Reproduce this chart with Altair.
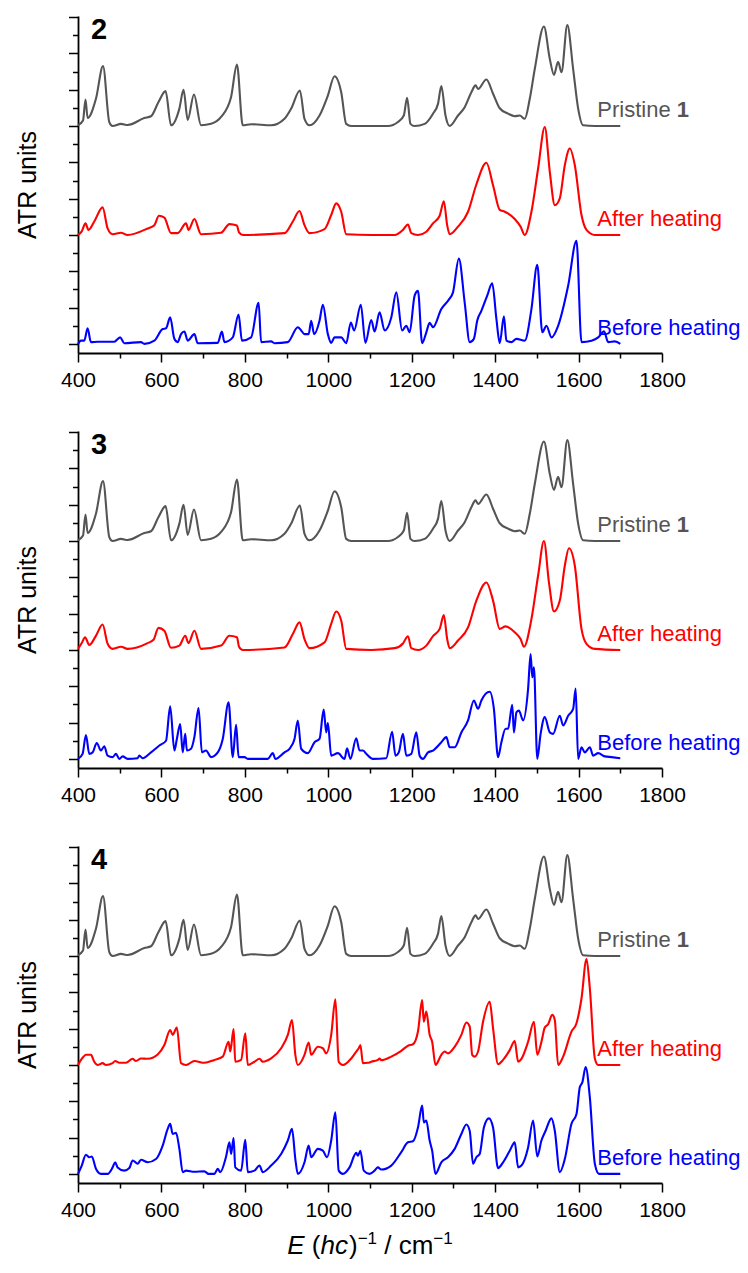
import altair as alt
import pandas as pd

FONT = "Liberation Sans, Arial, Helvetica, sans-serif"

SERIES = ["Pristine", "After heating", "Before heating"]
COLORS = ["#555555", "#ff0000", "#0000ff"]
OFFSETS = [6, 3, 0]

MAJOR_X = [400, 600, 800, 1000, 1200, 1400, 1600, 1800]
MINOR_X = [500, 700, 900, 1100, 1300, 1500, 1700]
MAJOR_Y = [0, 1, 2, 3, 4, 5, 6, 7, 8, 9]
MINOR_Y = [0.5, 1.5, 2.5, 3.5, 4.5, 5.5, 6.5, 7.5, 8.5]

PANELS = ["2", "3", "4"]

# x-axis title pieces: (text, italic, superscript, leading gap in em)
X_TITLE = [("E", True, False, 0), ("(", False, False, 0.278), ("hc", True, False, 0),
           (")", False, False, 0.04), ("\u22121", False, True, 0), ("/ cm", False, False, 0.278),
           ("\u22121", False, True, 0)]

# Pristine 1 (same trace in every panel): (wavenumber, intensity)
PRISTINE_1 = [(400, 0.02), (412, 0.15), (418, 0.73), (423, 0.22), (443, 0.75), (460, 1.65), (475, 0.11),
              (483, 0), (503, 0.06), (519, 0.03), (559, 0.22), (575, 0.27), (593, 0.66), (610, 0.96),
              (623, 0.02), (643, 0.48), (653, 1.0), (663, 0.17), (678, 0.87), (695, 0.02), (719, 0.06),
              (743, 0.25), (767, 0.80), (781, 1.69), (795, 0.02), (815, 0.05), (863, 0.02), (895, 0.20),
              (911, 0.48), (932, 0.98), (943, 0.2), (955, 0.02), (979, 0.29), (999, 0.84), (1015, 1.37),
              (1031, 0.93), (1043, 0.06), (1055, 0), (1103, 0), (1143, 0), (1167, 0.11), (1181, 0.29),
              (1189, 0.78), (1197, 0.06), (1207, 0), (1231, 0.06), (1251, 0.34), (1263, 0.61), (1271, 1.10),
              (1281, 0.29), (1291, 0), (1311, 0.29), (1327, 0.52), (1343, 0.93), (1353, 1.12), (1359, 1.02),
              (1379, 1.28), (1395, 0.89), (1411, 0.49), (1431, 0.34), (1447, 0.27), (1459, 0.29), (1471, 0.2),
              (1483, 0.75), (1495, 1.57), (1517, 2.74), (1531, 1.85), (1541, 1.41), (1551, 1.77), (1559, 1.48),
              (1573, 2.78), (1587, 1.57), (1599, 0.48), (1611, 0.02), (1639, 0), (1700, 0)]

# Panel 2
AFTER_2 = [(400, 0), (409, 0.1), (418, 0.32), (425, 0.14), (439, 0.37), (459, 0.76), (471, 0.18), (483, 0.02),
           (503, 0.06), (519, 0), (567, 0.18), (583, 0.27), (594, 0.53), (607, 0.48), (623, 0.05), (639, 0.05),
           (659, 0.32), (665, 0.14), (679, 0.44), (695, 0.02), (743, 0.06), (763, 0.30), (781, 0.26), (786, 0.07),
           (795, 0), (895, 0.05), (915, 0.37), (931, 0.66), (943, 0.27), (955, 0.05), (991, 0.16), (1007, 0.55),
           (1019, 0.87), (1031, 0.64), (1043, 0.02), (1103, 0), (1159, 0), (1179, 0.14), (1191, 0.29),
           (1199, 0.05), (1215, 0), (1235, 0.09), (1251, 0.32), (1267, 0.53), (1277, 0.93), (1285, 0.27),
           (1291, 0.02), (1311, 0.23), (1335, 0.64), (1355, 1.39), (1379, 1.99), (1395, 1.37), (1411, 0.69),
           (1423, 0.64), (1447, 0.44), (1461, 0.23), (1471, 0), (1487, 0.64), (1503, 1.83), (1519, 2.97),
           (1531, 1.74), (1543, 0.82), (1555, 1.01), (1567, 1.92), (1579, 2.38), (1591, 1.92), (1607, 0.55),
           (1619, 0.14), (1639, 0), (1700, 0)]

BEFORE_2 = [(400, 0), (407, 0.09), (415, 0.09), (423, 0.43), (431, 0.05), (447, 0.06), (487, 0.06), (501, 0.18),
            (511, 0.02), (551, 0.05), (559, 0), (583, 0.09), (603, 0.41), (611, 0.43), (621, 0.73), (631, 0.14),
            (639, 0.05), (647, 0.27), (655, 0.34), (663, 0.09), (679, 0.27), (687, 0.02), (735, 0.03), (745, 0.34),
            (751, 0.05), (771, 0.18), (785, 0.81), (793, 0.09), (815, 0.18), (833, 1.13), (839, 0.05), (863, 0.07),
            (871, 0.02), (903, 0.05), (927, 0.46), (935, 0.37), (943, 0.27), (953, 0.27), (959, 0.64), (966, 0.27),
            (979, 0.64), (987, 1.08), (999, 0.27), (1007, 0.03), (1015, 0.18), (1031, 0.18), (1043, 0.02),
            (1054, 0.59), (1062, 0.37), (1078, 1.08), (1089, 0.03), (1103, 0.66), (1111, 0.34), (1123, 0.87),
            (1135, 0.37), (1151, 0.73), (1163, 1.42), (1177, 0.37), (1187, 0.50), (1195, 0.32), (1207, 1.33),
            (1215, 1.46), (1225, 0.02), (1235, 0.32), (1243, 0.58), (1251, 0.46), (1271, 0.96), (1289, 1.22),
            (1299, 1.42), (1313, 2.35), (1327, 1.14), (1339, 0.05), (1349, 0.14), (1357, 0.64), (1367, 0.91),
            (1381, 1.33), (1393, 1.67), (1403, 0.69), (1411, 0.02), (1421, 0.76), (1427, 0.09), (1439, 0.05),
            (1451, 0.14), (1471, 0.09), (1487, 0.96), (1501, 2.18), (1513, 0.32), (1523, 0.5), (1535, 0.18),
            (1551, 0.5), (1575, 1.6), (1595, 2.84), (1607, 0.05), (1631, 0.09), (1647, 0.18), (1661, 0.35),
            (1671, 0.05), (1687, 0.07), (1700, 0)]

# Panel 3
AFTER_3 = [(400, 0.03), (409, 0.19), (417, 0.35), (427, 0.14), (443, 0.39), (459, 0.70), (471, 0.17), (483, 0.03),
           (503, 0.09), (519, 0.03), (567, 0.19), (581, 0.28), (593, 0.61), (607, 0.53), (623, 0.06), (643, 0.12),
           (657, 0.39), (665, 0.19), (679, 0.53), (695, 0.03), (743, 0.12), (763, 0.39), (781, 0.35), (786, 0.09),
           (795, 0), (895, 0.07), (915, 0.44), (931, 0.76), (943, 0.30), (955, 0.05), (991, 0.21), (1007, 0.72),
           (1019, 1.06), (1031, 0.81), (1043, 0.03), (1103, 0), (1159, 0.05), (1179, 0.18), (1191, 0.38),
           (1199, 0.05), (1215, 0), (1235, 0.12), (1251, 0.38), (1267, 0.58), (1277, 0.96), (1285, 0.30),
           (1291, 0.05), (1311, 0.26), (1335, 0.62), (1355, 1.36), (1379, 1.86), (1395, 1.36), (1411, 0.58),
           (1425, 0.65), (1447, 0.49), (1461, 0.30), (1469, 0.09), (1487, 0.85), (1503, 2.05), (1517, 3.0),
           (1529, 1.86), (1541, 1.06), (1555, 1.36), (1567, 2.32), (1577, 2.8), (1591, 2.32), (1607, 0.58),
           (1619, 0.17), (1639, 0.03), (1700, 0)]

BEFORE_3 = [(400, 0), (411, 0.14), (419, 0.66), (427, 0.14), (435, 0.18), (445, 0.44), (455, 0.23), (463, 0.35),
            (471, 0.09), (483, 0.05), (491, 0.14), (499, 0), (507, 0.07), (519, 0), (543, 0.02), (547, 0.09),
            (555, 0.02), (575, 0.18), (595, 0.37), (611, 0.5), (621, 1.45), (631, 0.23), (637, 0.55), (645, 0.96),
            (651, 0.18), (657, 0.69), (661, 0.23), (671, 0.28), (679, 0.6), (689, 1.40), (697, 0.18), (707, 0.23),
            (719, 0.05), (735, 0.18), (747, 0.55), (761, 1.56), (771, 0.05), (779, 0.94), (785, 0.05), (799, 0.05),
            (807, 0), (855, 0), (867, 0.16), (873, 0), (895, 0.18), (907, 0.28), (919, 0.55), (927, 1.06),
            (935, 0.28), (951, 0.16), (967, 0.46), (979, 0.55), (989, 1.36), (995, 0.73), (999, 0.99), (1007, 0.09),
            (1023, 0.16), (1039, 0), (1045, 0.29), (1053, 0), (1067, 0.57), (1075, 0.23), (1083, 0.23),
            (1091, 0.14), (1107, 0), (1139, 0.02), (1153, 0.75), (1161, 0.09), (1169, 0.18), (1179, 0.69),
            (1187, 0.09), (1199, 0.14), (1211, 0.73), (1219, 0.09), (1227, 0), (1239, 0.18), (1251, 0.23),
            (1271, 0.46), (1283, 0.6), (1291, 0.32), (1303, 0.32), (1319, 0.73), (1335, 1.06), (1349, 1.61),
            (1359, 1.38), (1367, 1.61), (1387, 1.85), (1397, 1.38), (1407, 0.05), (1415, 0.46), (1425, 0.83),
            (1431, 0.83), (1441, 1.49), (1445, 0.73), (1451, 1.28), (1457, 1.33), (1467, 1.06), (1479, 1.93),
            (1485, 2.89), (1489, 2.25), (1493, 2.52), (1501, 0), (1509, 0.69), (1519, 1.15), (1531, 0.73),
            (1539, 0.69), (1555, 1.19), (1563, 0.92), (1575, 1.19), (1587, 1.38), (1593, 1.94), (1599, 0),
            (1607, 0.32), (1615, 0.18), (1627, 0.32), (1635, 0.09), (1647, 0.16), (1663, 0.07), (1679, 0.05),
            (1700, 0.02)]

# Panel 4
AFTER_4 = [(400, 0), (411, 0.2), (419, 0.28), (431, 0.28), (439, 0.09), (447, 0), (459, 0.05), (467, 0), (483, 0.05),
           (489, 0.11), (499, 0.06), (515, 0.06), (531, 0.17), (539, 0.11), (551, 0.18), (567, 0.17), (591, 0.29),
           (607, 0.55), (621, 0.96), (627, 0.83), (637, 1.03), (647, 0.05), (659, 0), (679, 0.11), (703, 0.06),
           (727, 0.14), (747, 0.23), (761, 0.64), (765, 0.37), (773, 0.99), (777, 0.09), (791, 0.14), (801, 0.87),
           (807, 0), (823, 0.09), (835, 0.17), (843, 0.09), (863, 0.18), (887, 0.46), (903, 0.83), (913, 1.24),
           (921, 0.28), (927, 0), (943, 0.28), (953, 0.62), (959, 0.28), (975, 0.5), (987, 0.46), (995, 0.32),
           (1007, 0.83), (1017, 1.81), (1025, 0.09), (1035, 0), (1055, 0.18), (1067, 0.37), (1073, 0.46),
           (1077, 0.55), (1083, 0.05), (1095, 0.06), (1103, 0.09), (1119, 0.14), (1123, 0.18), (1127, 0.13),
           (1151, 0.23), (1175, 0.39), (1191, 0.53), (1203, 0.57), (1215, 0.92), (1225, 1.79), (1229, 1.19),
           (1235, 1.47), (1243, 0.83), (1249, 0.64), (1257, 0), (1271, 0.28), (1279, 0.37), (1287, 0.32),
           (1303, 0.5), (1319, 0.83), (1331, 1.17), (1339, 1.06), (1345, 0.28), (1351, 0.23), (1359, 0.37),
           (1371, 1.19), (1387, 1.74), (1395, 1.01), (1407, 0.02), (1419, 0.14), (1435, 0.41), (1447, 0.66),
           (1455, 0.09), (1463, 0.17), (1479, 0.64), (1493, 1.19), (1501, 0.28), (1511, 0.64), (1519, 1.03),
           (1527, 1.12), (1537, 1.38), (1543, 1.24), (1551, 0), (1563, 0.23), (1583, 0.92), (1595, 1.15),
           (1607, 1.83), (1619, 2.92), (1627, 2.11), (1639, 0.18), (1647, 0), (1700, 0)]

BEFORE_4 = [(400, 0), (409, 0.23), (419, 0.53), (427, 0.46), (433, 0.48), (443, 0.14), (455, 0), (471, 0), (483, 0.18),
            (489, 0.32), (495, 0.18), (511, 0.09), (523, 0.16), (531, 0.37), (543, 0.28), (551, 0.39), (567, 0.32),
            (587, 0.41), (603, 0.78), (615, 1.24), (621, 1.38), (627, 1.10), (635, 1.13), (643, 0.69), (651, 0.05),
            (659, 0.09), (679, 0.06), (703, 0.07), (713, 0), (727, 0), (735, 0.14), (741, 0.05), (755, 0.48),
            (763, 0.87), (767, 0.55), (773, 0.99), (777, 0.18), (791, 0.09), (801, 0.94), (807, 0.05), (823, 0.09),
            (835, 0.23), (843, 0.05), (863, 0.23), (887, 0.55), (903, 0.92), (913, 1.24), (921, 0.41), (927, 0),
            (943, 0.32), (953, 0.78), (959, 0.46), (975, 0.69), (987, 0.64), (997, 0.46), (1007, 0.92), (1017, 1.70),
            (1025, 0.09), (1035, 0), (1051, 0.18), (1067, 0.58), (1071, 0.5), (1077, 0.64), (1085, 0.09), (1099, 0),
            (1111, 0.09), (1119, 0.18), (1127, 0.12), (1151, 0.23), (1175, 0.6), (1191, 0.87), (1203, 0.9),
            (1215, 1.28), (1225, 1.88), (1229, 1.42), (1235, 1.47), (1243, 0.92), (1249, 0.64), (1257, 0),
            (1271, 0.32), (1287, 0.46), (1303, 0.69), (1319, 1.10), (1331, 1.36), (1339, 1.19), (1347, 0.28),
            (1355, 0.46), (1363, 0.55), (1373, 1.28), (1385, 1.53), (1395, 1.28), (1407, 0.16), (1419, 0.32),
            (1435, 0.64), (1447, 0.87), (1455, 0.18), (1463, 0.23), (1479, 0.73), (1491, 1.47), (1501, 0.48),
            (1511, 0.92), (1521, 1.19), (1535, 1.53), (1543, 1.19), (1555, 0.05), (1567, 0.41), (1583, 1.38),
            (1595, 1.65), (1603, 2.39), (1609, 2.52), (1617, 2.94), (1627, 2.11), (1639, 0.28), (1649, 0),
            (1700, 0)]

PANEL_DATA = [(AFTER_2, BEFORE_2), (AFTER_3, BEFORE_3), (AFTER_4, BEFORE_4)]

W, H = 584, 337
LABEL_X = 1645

# Arial / Liberation Sans advance widths (em) for the title glyphs
GLYPH_W = {"E": 0.667, " ": 0.278, "(": 0.333, ")": 0.333, "h": 0.556, "c": 0.5, "m": 0.833,
           "/": 0.278, "\u2212": 0.584, "1": 0.556}
TITLE_SIZE, SUP_SIZE = 26, 17


def title_layers():
    pieces = []
    for txt, ital, sup, gap in X_TITLE:
        size = SUP_SIZE if sup else TITLE_SIZE
        pieces.append((txt, ital, sup, gap * TITLE_SIZE, sum(GLYPH_W[ch] for ch in txt) * size))
    total = sum(p[3] + p[4] for p in pieces)
    x = W / 2 - total / 2
    layers = []
    for txt, ital, sup, gap, w in pieces:
        x += gap
        d = pd.DataFrame({"t": [txt]})
        mk = alt.Chart(d).mark_text(
            align="left", baseline="alphabetic", font=FONT, color="black",
            fontSize=SUP_SIZE if sup else TITLE_SIZE,
            fontStyle="italic" if ital else "normal",
        ).encode(text="t:N", x=alt.value(x), y=alt.value(H + 71 - (10 if sup else 0)))
        layers.append(mk)
        x += w
    return layers


def make_panel(num, after, before, last):
    rows = []
    for name, pts, off in zip(SERIES, [PRISTINE_1, after, before], OFFSETS):
        for i, (x, y) in enumerate(pts):
            rows.append({"x": x, "y": y + off, "series": name, "i": i})
    df = pd.DataFrame(rows)

    xs = alt.Scale(domain=[400, 1800], nice=False, zero=False)
    ys = alt.Scale(domain=[-0.25, 9.03], nice=False, zero=False)
    color = alt.Color("series:N", scale=alt.Scale(domain=SERIES, range=COLORS), legend=None)

    x_axis = alt.Axis(values=MAJOR_X, format="d", grid=False, tickSize=9, tickWidth=1.5, tickColor="black",
                      domainColor="black", domainWidth=1.8, labelFont=FONT, labelFontSize=21,
                      labelColor="black", labelPadding=7, labelOverlap=False, labelFlush=False,
                      title=None)
    y_axis = alt.Axis(values=MAJOR_Y, grid=False, labels=False, tickSize=9.5, tickWidth=1.5,
                      tickColor="black", domainColor="black", domainWidth=1.8,
                      title="ATR units", titleFont=FONT, titleFontSize=25, titleFontWeight="normal",
                      titleColor="black", titlePadding=27)

    lines = alt.Chart(df).mark_line(strokeWidth=2.1, interpolate="monotone").encode(
        x=alt.X("x:Q", scale=xs, axis=x_axis),
        y=alt.Y("y:Q", scale=ys, axis=y_axis),
        color=color,
        order="i:Q",
    )

    minor = alt.Chart(df).mark_line(strokeOpacity=0).encode(
        x=alt.X("x:Q", scale=xs, axis=alt.Axis(values=MINOR_X, orient="bottom", labels=False, domain=False,
                                                grid=False, tickSize=5, tickWidth=1.5, tickColor="black",
                                                title=None)),
        y=alt.Y("y:Q", scale=ys, axis=alt.Axis(values=MINOR_Y, orient="left", labels=False, domain=False,
                                                grid=False, tickSize=5.5, tickWidth=1.5, tickColor="black",
                                                title=None)),
        detail="series:N",
    )

    lab_df = pd.DataFrame({"series": SERIES, "label": ["Pristine", "After heating", "Before heating"],
                           "x": [LABEL_X] * 3, "y": OFFSETS})
    labels = alt.Chart(lab_df).mark_text(align="left", baseline="alphabetic", dy=-9, fontSize=22,
                                         font=FONT).encode(
        x=alt.X("x:Q", scale=xs, axis=None),
        y=alt.Y("y:Q", scale=ys, axis=None),
        text="label:N",
        color=color,
    )
    one_df = pd.DataFrame({"x": [LABEL_X], "y": [OFFSETS[0]], "t": ["1"]})
    one = alt.Chart(one_df).mark_text(align="left", baseline="alphabetic", dx=79.5, dy=-9, fontSize=22,
                                      font=FONT, fontWeight="bold", color=COLORS[0]).encode(
        x=alt.X("x:Q", scale=xs, axis=None),
        y=alt.Y("y:Q", scale=ys, axis=None),
        text="t:N",
    )
    num_df = pd.DataFrame({"t": [num]})
    number = alt.Chart(num_df).mark_text(align="left", baseline="alphabetic", fontSize=29, font=FONT,
                                         fontWeight="bold", color="black").encode(
        text="t:N", x=alt.value(13), y=alt.value(23))

    layers = [lines, minor, labels, one, number]
    if last:
        layers += title_layers()
    return alt.layer(*layers).resolve_axis(
        x="independent", y="independent").properties(width=W, height=H)


panels = [make_panel(PANELS[k], PANEL_DATA[k][0], PANEL_DATA[k][1], k == 2) for k in range(3)]

chart = alt.vconcat(*panels, spacing=78, bounds="flush").configure_view(stroke=None).properties(
    padding={"left": 15, "top": 16, "right": 5, "bottom": 5})

chart.save("out.html", embed_options={"renderer": "svg", "actions": False})
